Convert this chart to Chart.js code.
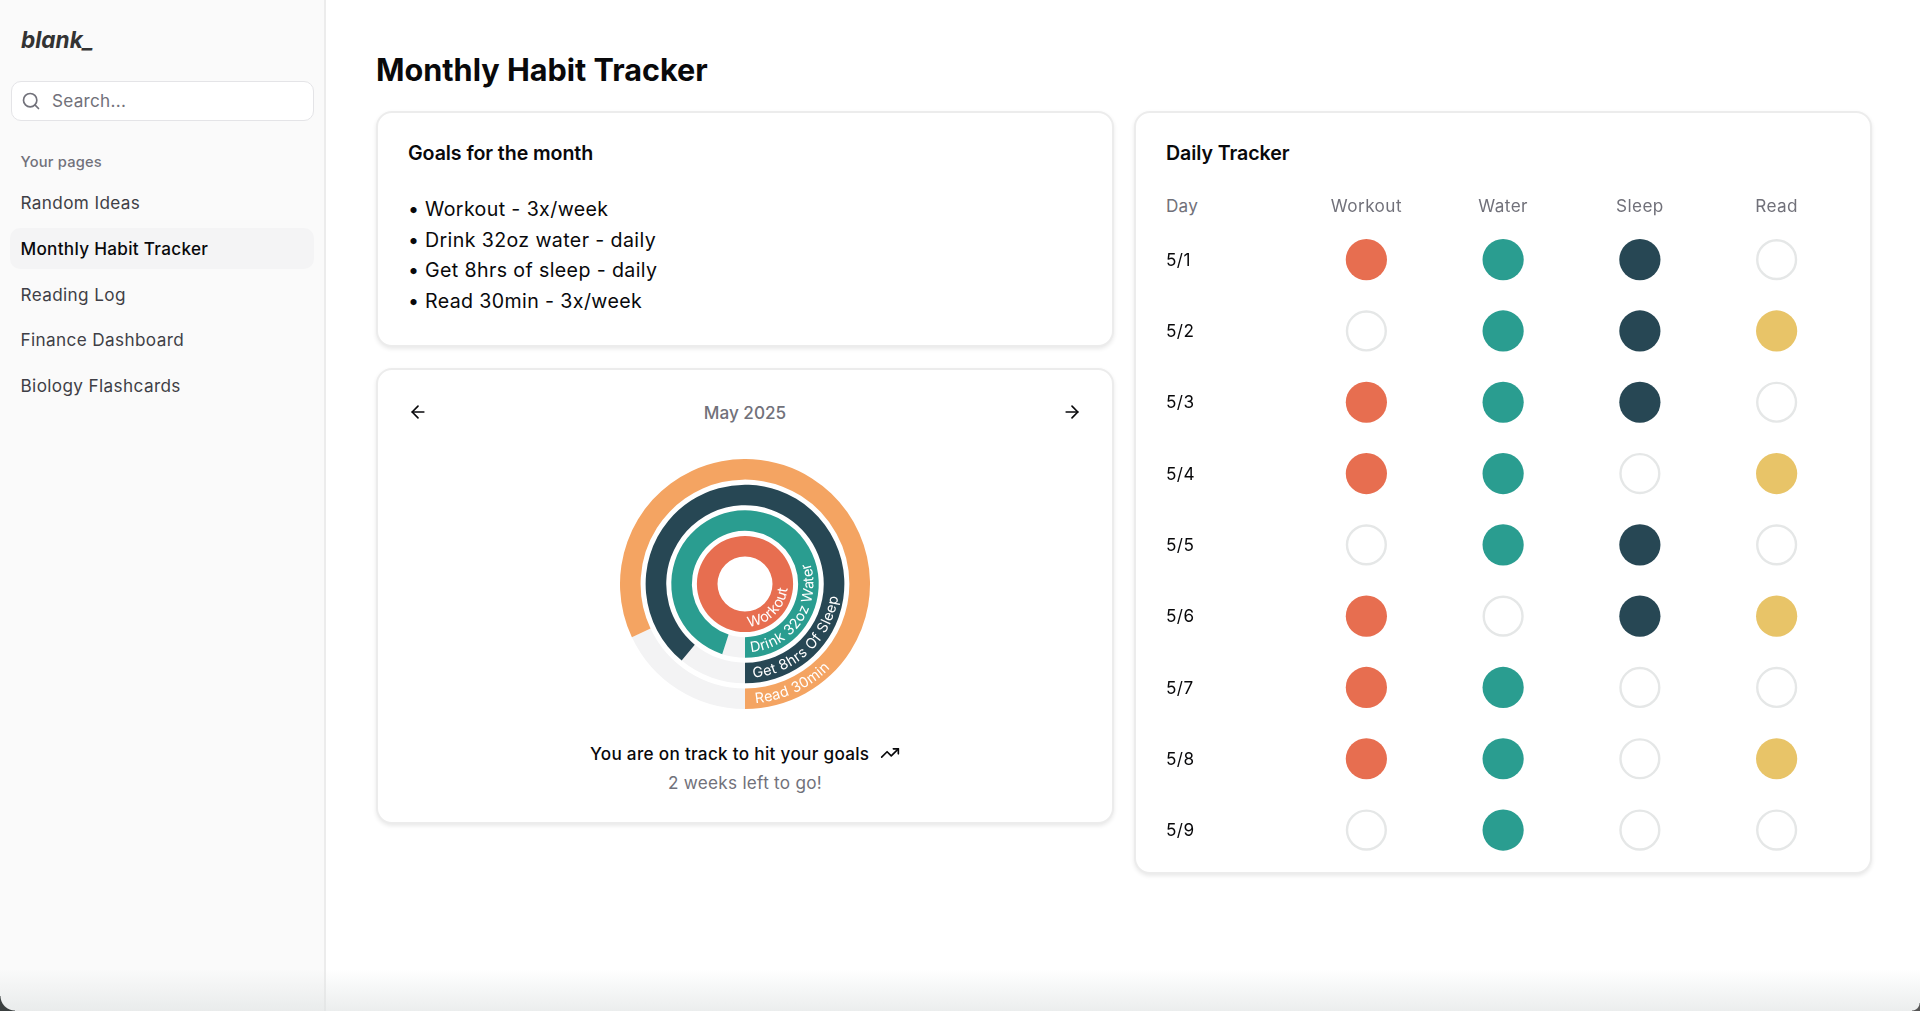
<!DOCTYPE html>
<html><head><meta charset="utf-8">
<script src="https://cdn.jsdelivr.net/npm/chart.js@4/dist/chart.umd.min.js"></script>
<style>
*{box-sizing:border-box;margin:0;padding:0}
html,body{width:1920px;height:1011px;overflow:hidden;background:#fff;font-family:Inter,sans-serif;color:#09090b}
.t{position:absolute;white-space:nowrap;line-height:30px;height:30px;letter-spacing:.38px}
.side{position:absolute;left:0;top:0;width:326px;height:1011px;background:#fafafa;border-right:2px solid #ececec}
.card{position:absolute;background:#fff;border:2px solid #ececec;border-radius:16px;box-shadow:0 2px 4px rgba(0,0,0,.09)}
.nav{font-size:17.15px;color:#3f3f46;left:20.5px}
.gray{color:#71717a}
.h{letter-spacing:-.08px}
canvas{position:absolute;display:block}
svg{position:absolute;fill:none;stroke-linecap:round;stroke-linejoin:round}
.fade{position:absolute;left:0;right:0;bottom:0;height:42px;background:linear-gradient(to bottom,rgba(225,228,228,0),rgba(222,226,226,.6));pointer-events:none}
.corner{position:absolute;bottom:0}
</style></head><body>
<div class="side"></div>
<div class="t" style="left:21px;top:25px;font-size:22.6px;font-weight:700;font-style:italic;color:#333;letter-spacing:0">blank_</div>
<div style="position:absolute;left:11px;top:81px;width:303px;height:40px;background:#fff;border:1.5px solid #e4e4e7;border-radius:10px"></div>
<svg style="left:21px;top:91px" width="20" height="20" viewBox="0 0 24 24" stroke="#71717a" stroke-width="2"><circle cx="11" cy="11" r="8"/><path d="m21 21-4.3-4.3"/></svg>
<div class="t gray" style="left:52px;top:86px;font-size:17.15px;letter-spacing:.27px">Search...</div>
<div class="t gray" style="left:20.5px;top:147px;font-size:14.7px;font-weight:500;letter-spacing:.2px">Your pages</div>
<div style="position:absolute;left:10px;top:228px;width:304px;height:41px;background:#f4f4f5;border-radius:10px"></div>
<div class="t nav" style="top:188px">Random Ideas</div>
<div class="t nav" style="top:233.5px;color:#09090b;font-weight:500;letter-spacing:.3px">Monthly Habit Tracker</div>
<div class="t nav" style="top:279.5px">Reading Log</div>
<div class="t nav" style="top:325px">Finance Dashboard</div>
<div class="t nav" style="top:371px">Biology Flashcards</div>

<div class="t" style="left:376px;top:55px;font-size:30.6px;font-weight:700;letter-spacing:0">Monthly Habit Tracker</div>

<div class="card" style="left:376px;top:111px;width:738px;height:236px"></div>
<div class="t h" style="left:408px;top:138px;font-size:19.6px;font-weight:600">Goals for the month</div>
<div class="t" style="left:408px;top:194px;font-size:19.6px">•</div>
<div class="t" style="left:408px;top:224.5px;font-size:19.6px">•</div>
<div class="t" style="left:408px;top:255px;font-size:19.6px">•</div>
<div class="t" style="left:408px;top:285.5px;font-size:19.6px">•</div>
<div class="t" style="left:425px;top:194px;font-size:19.6px">Workout - 3x/week</div>
<div class="t" style="left:425px;top:224.5px;font-size:19.6px">Drink 32oz water - daily</div>
<div class="t" style="left:425px;top:255px;font-size:19.6px">Get 8hrs of sleep - daily</div>
<div class="t" style="left:425px;top:285.5px;font-size:19.6px">Read 30min - 3x/week</div>

<div class="card" style="left:376px;top:368px;width:738px;height:456px"></div>
<svg style="left:408px;top:402px" width="20" height="20" viewBox="0 0 24 24" stroke="#09090b" stroke-width="2"><path d="m12 19-7-7 7-7"/><path d="M19 12H5"/></svg>
<svg style="left:1062px;top:402px" width="20" height="20" viewBox="0 0 24 24" stroke="#09090b" stroke-width="2"><path d="M5 12h14"/><path d="m12 5 7 7-7 7"/></svg>
<div class="t gray" style="left:545px;width:400px;text-align:center;top:398px;font-size:17.15px;font-weight:500;letter-spacing:0">May 2025</div>
<canvas id="rings" style="left:620px;top:459px;width:250px;height:250px"></canvas>
<div class="t" style="left:590px;top:739px;font-size:17.15px;font-weight:500;letter-spacing:.3px">You are on track to hit your goals</div>
<svg style="left:880px;top:743px" width="20" height="20" viewBox="0 0 24 24" stroke="#09090b" stroke-width="2"><path d="M22 7 13.5 15.5l-5-5L2 17"/><path d="M16 7h6v6"/></svg>
<div class="t gray" style="left:545px;width:400px;text-align:center;top:768px;font-size:17.15px;letter-spacing:.27px">2 weeks left to go!</div>

<div class="card" style="left:1134px;top:111px;width:738px;height:763px"></div>
<div class="t h" style="left:1166px;top:138px;font-size:19.6px;font-weight:600">Daily Tracker</div>
<div class="t gray" style="left:1166px;top:191px;font-size:17.15px;letter-spacing:.2px">Day</div>
<canvas id="tracker" style="left:1166px;top:190px;width:679px;height:686px"></canvas>

<div class="fade"></div>
<div class="corner" style="left:0;width:15px;height:15px;background:radial-gradient(circle at 100% 0,transparent 14px,#3a3f3f 15px)"></div>
<div class="corner" style="right:0;width:8px;height:8px;background:radial-gradient(circle at 0 0,transparent 7px,#555 8px)"></div>

<script>
// Radial chart data (percent of month goal complete)
const ringLabels = ["Read 30min", "Get 8hrs Of Sleep", "Drink 32oz Water", "Workout"];
const ringValues = [82, 89, 95, 100];
const ringColors = ["#f4a462", "#274754", "#2a9d90", "#e76e50"];
const TRACK = "#f3f3f4";

// Daily tracker data
const days = ["5/1","5/2","5/3","5/4","5/5","5/6","5/7","5/8","5/9"];
const habits = ["Workout","Water","Sleep","Read"];
const workout = [1,0,1,1,0,1,1,1,0];
const water   = [1,1,1,1,1,0,1,1,1];
const sleep   = [1,1,1,0,1,1,0,0,0];
const read    = [0,1,0,1,0,1,0,1,0];
const habitColors = ["#e76e50","#2a9d90","#274754","#e8c468"];

const FONT = "Inter, sans-serif";
Chart.defaults.animation = false;
Chart.defaults.font.family = FONT;

const ringDatasets = [];
ringValues.forEach((v, i) => {
  ringDatasets.push({ label: ringLabels[i], data: [100 - v, v], backgroundColor: [TRACK, ringColors[i]], borderWidth: 0, weight: 20.5 });
  if (i < ringValues.length - 1) ringDatasets.push({ label: "", data: [100], backgroundColor: ["rgba(0,0,0,0)"], borderWidth: 0, weight: 5 });
});

const curvedLabels = {
  id: "curvedLabels",
  afterDatasetsDraw(chart) {
    const ctx = chart.ctx;
    chart.data.datasets.forEach((ds, di) => {
      if (!ds.label) return;
      const arc = chart.getDatasetMeta(di).data[1];
      const R = (arc.innerRadius + arc.outerRadius) / 2 + 5;
      ctx.save();
      ctx.font = "14.4px " + FONT;
      ctx.fillStyle = "#fff";
      ctx.textAlign = "left";
      ctx.textBaseline = "alphabetic";
      const start = 5 * Math.PI / 180;
      const text = ds.label;
      for (let k = 0; k < text.length; k++) {
        const before = ctx.measureText(text.slice(0, k)).width + k * 0.35;
        const w = ctx.measureText(text[k]).width;
        const th = start + (before + w / 2) / R;
        ctx.save();
        ctx.translate(arc.x + R * Math.sin(th), arc.y + R * Math.cos(th));
        ctx.rotate(-th);
        ctx.fillText(text[k], -w / 2, 0);
        ctx.restore();
      }
      ctx.restore();
    });
  }
};

new Chart(document.getElementById("rings"), {
  type: "doughnut",
  data: { labels: ["Remaining", "Done"], datasets: ringDatasets },
  options: {
    responsive: false, rotation: 180, circumference: 360, cutout: 27.5,
    layout: { padding: 0 },
    plugins: { legend: { display: false }, tooltip: { enabled: false } },
    events: []
  },
  plugins: [curvedLabels]
});

const wideText = { id: "wideText", beforeDraw(chart) { chart.ctx.letterSpacing = "0.45px"; } };

const seriesByHabit = [workout, water, sleep, read];
new Chart(document.getElementById("tracker"), {
  type: "scatter",
  data: {
    datasets: habits.map((h, i) => ({
      label: h,
      data: days.map((d, j) => ({ x: h, y: d, done: seriesByHabit[i][j] })),
      pointRadius: c => c.raw.done ? 20.6 : 19.4,
      pointBackgroundColor: c => c.raw.done ? habitColors[i] : "#fff",
      pointBorderColor: "#e5e7e7",
      pointBorderWidth: c => c.raw.done ? 0 : 2.4
    }))
  },
  options: {
    responsive: false,
    layout: { padding: 0, autoPadding: false },
    plugins: { legend: { display: false }, tooltip: { enabled: false } },
    events: [],
    clip: false,
    scales: {
      x: {
        type: "category", labels: habits, position: "top", offset: true,
        grid: { display: false, drawTicks: false }, border: { display: false },
        ticks: { color: "#71717a", font: { size: 17.15 }, padding: 6.5, maxRotation: 0 },
        afterFit(s) { s.height = 34; }
      },
      y: {
        type: "category", labels: days, position: "left", offset: true,
        grid: { display: false, drawTicks: false }, border: { display: false },
        ticks: { color: "#09090b", font: { size: 17.15 }, crossAlign: "far", padding: 0, labelOffset: 1 },
        afterFit(s) { s.width = 132; }
      }
    }
  },
  plugins: [wideText]
});
</script>
</body></html>
